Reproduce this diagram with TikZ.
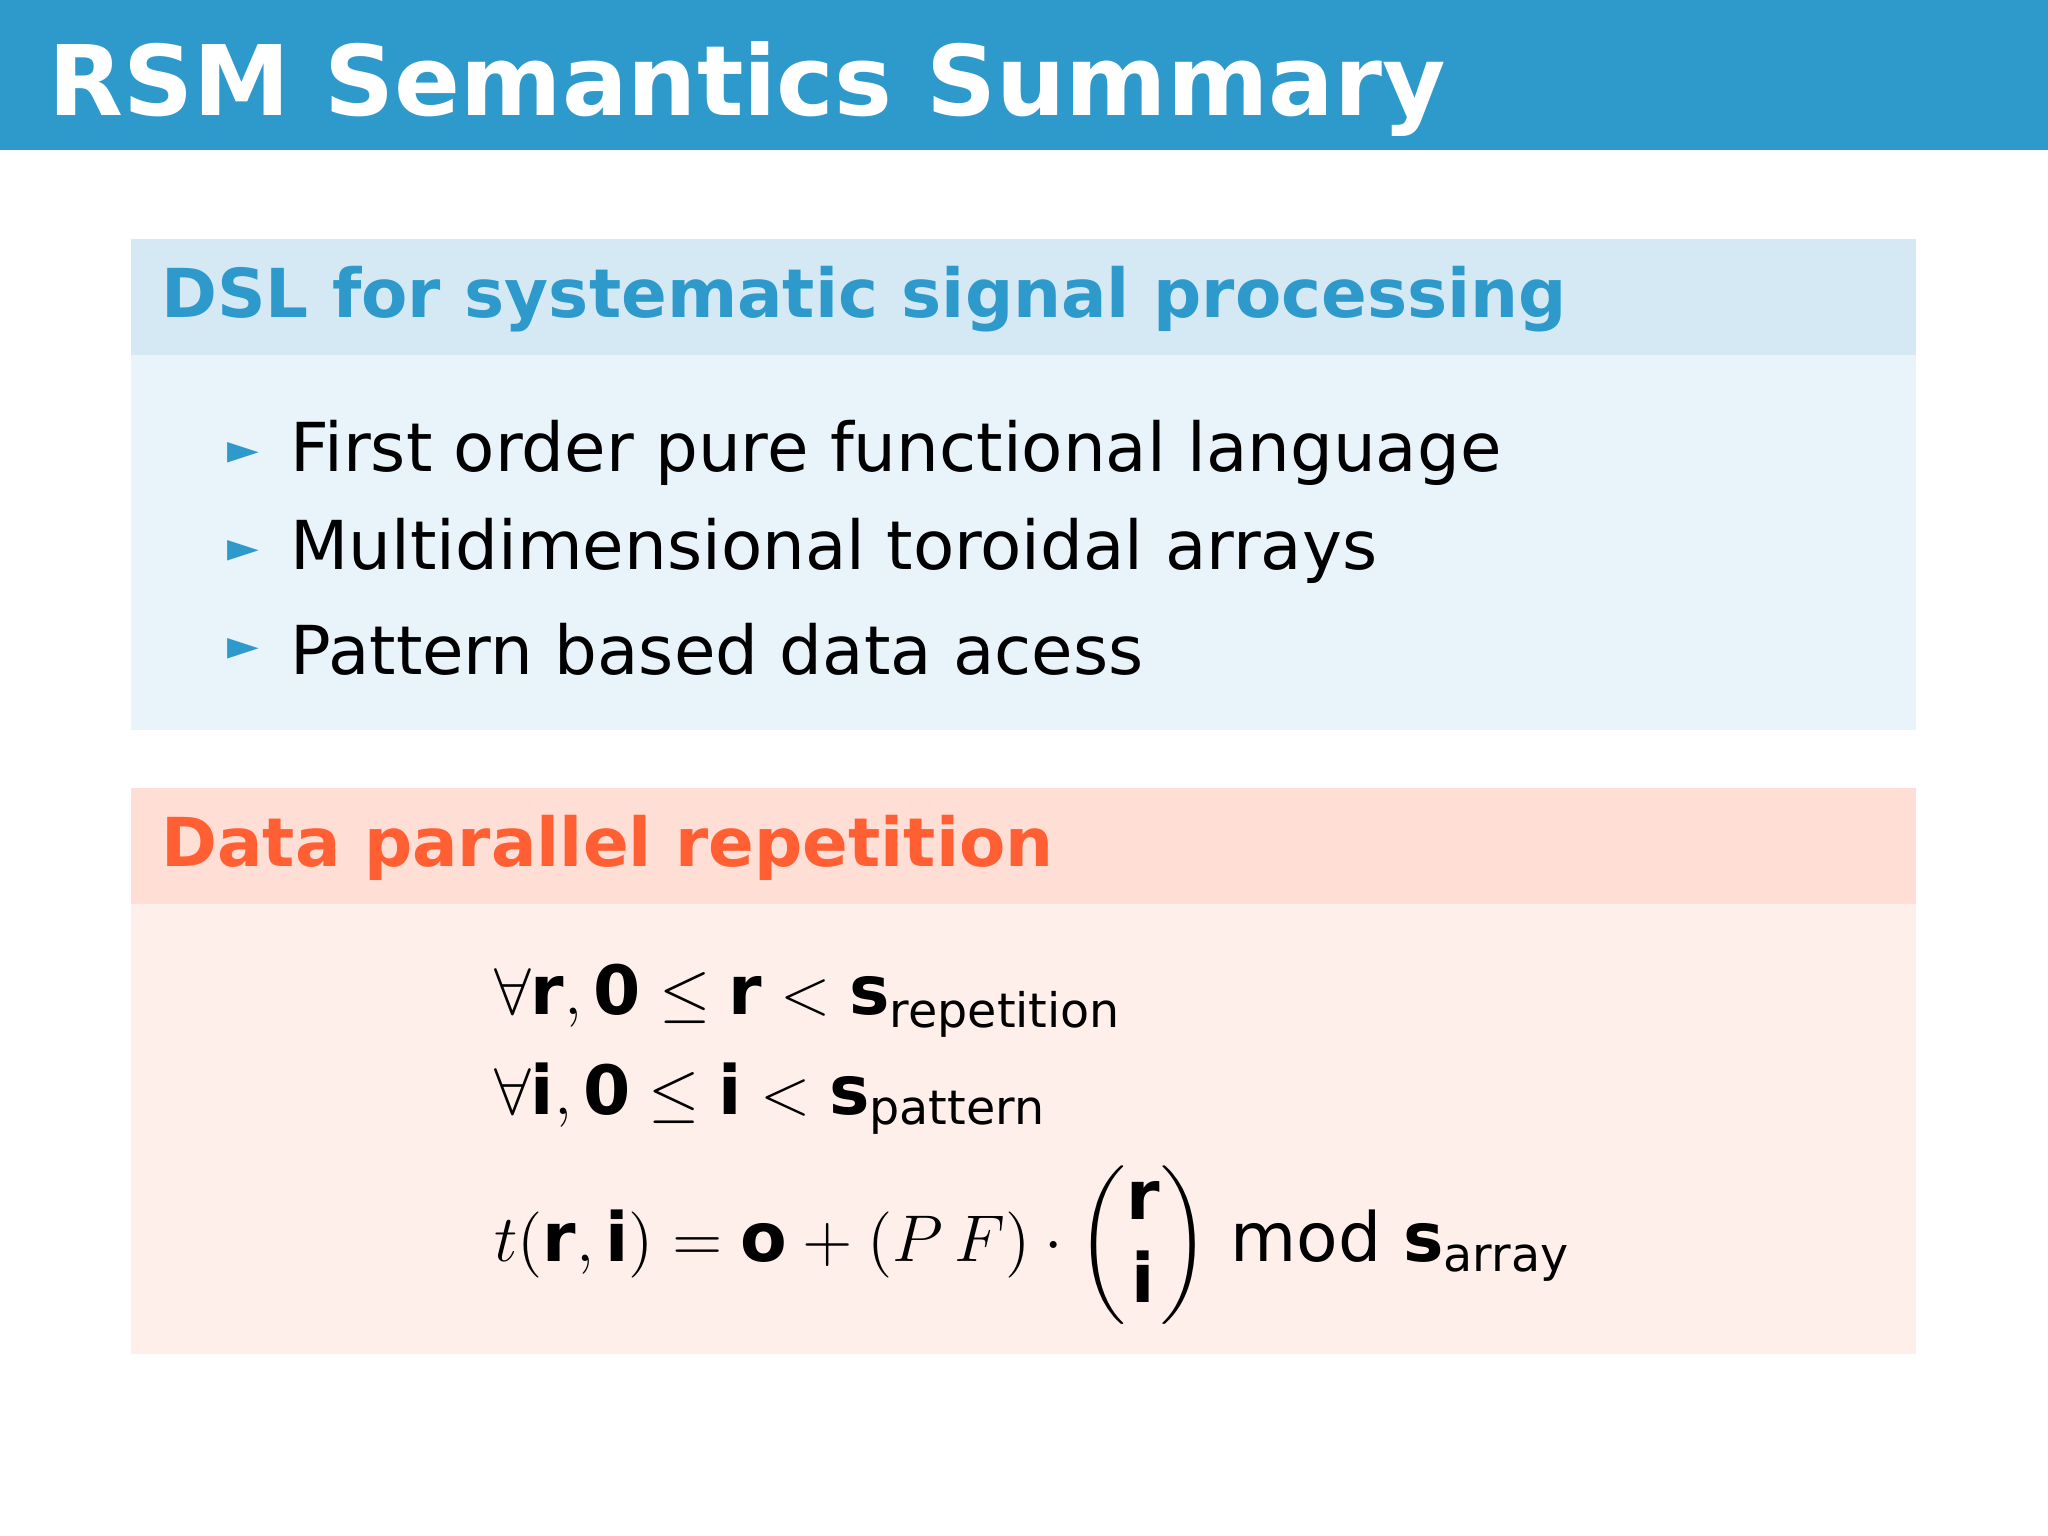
\documentclass[tikz,border=0pt]{standalone}
\usepackage{amsmath}
\usepackage{fontspec}
\setmainfont{DejaVu Sans}
\definecolor{titlebar}{HTML}{2E9ACC}
\definecolor{bhead}{HTML}{D5E9F5}
\definecolor{bbody}{HTML}{E9F3FA}
\definecolor{rhead}{HTML}{FFDED5}
\definecolor{rbody}{HTML}{FFEFEB}
\definecolor{rtitle}{HTML}{FF5F33}
\newcommand{\bv}[1]{\text{\bfseries #1}}
\tikzset{
  hdr/.style={anchor=west,font=\fontsize{14.7}{18}\selectfont\bfseries},
  item/.style={anchor=west,font=\fontsize{14.7}{18}\selectfont},
  bul/.style={anchor=center,text=titlebar,font=\fontsize{9}{11}\selectfont},
  eq/.style={anchor=west,font=\fontsize{14.8}{18}\selectfont}
}
\begin{document}
\begin{tikzpicture}[x=0.1mm,y=-0.1mm]
\useasboundingbox (0,0) rectangle (1568,1176);
\fill[white] (0,0) rectangle (1568,1176);
\fill[titlebar] (0,0) rectangle (1568,115);
\node (title) [anchor=west,text=white,font=\fontsize{21.2}{26}\selectfont\bfseries] at (25,68) {RSM Semantics Summary};
% block 1
\fill[bhead] (100,183) rectangle (1467,272);
\fill[bbody] (100,272) rectangle (1467,559);
\node (h1) [hdr,text=titlebar] at (111,229) {DSL for systematic signal processing};
\node (b1) [bul] at (186,347) {\symbol{"25BA}};
\node (b2) [bul] at (186,422) {\symbol{"25BA}};
\node (b3) [bul] at (186,497) {\symbol{"25BA}};
\node (i1) [item] at (210,347) {First order pure functional language};
\node (i2) [item] at (210,422) {Multidimensional toroidal arrays};
\node (i3) [item] at (210,497) {Pattern based data acess};
% block 2
\fill[rhead] (100,603) rectangle (1467,692);
\fill[rbody] (100,692) rectangle (1467,1037);
\node (h2) [hdr,text=rtitle] at (111,649) {Data parallel repetition};
\node (e1) [eq] at (366,766) {$\forall \bv{r}, \bv{0} \le \bv{r} < \bv{s}_{\text{repetition}}$};
\node (e2) [eq] at (366,841) {$\forall \bv{i}, \bv{0} \le \bv{i} < \bv{s}_{\text{pattern}}$};
\node (e3) [eq] at (366,953) {$t(\bv{r},\bv{i}) = \bv{o} + (P\,F)\cdot\begin{pmatrix}\bv{r}\\ \bv{i}\end{pmatrix}\,\text{mod}\ \bv{s}_{\text{array}}$};
\end{tikzpicture}
\end{document}
